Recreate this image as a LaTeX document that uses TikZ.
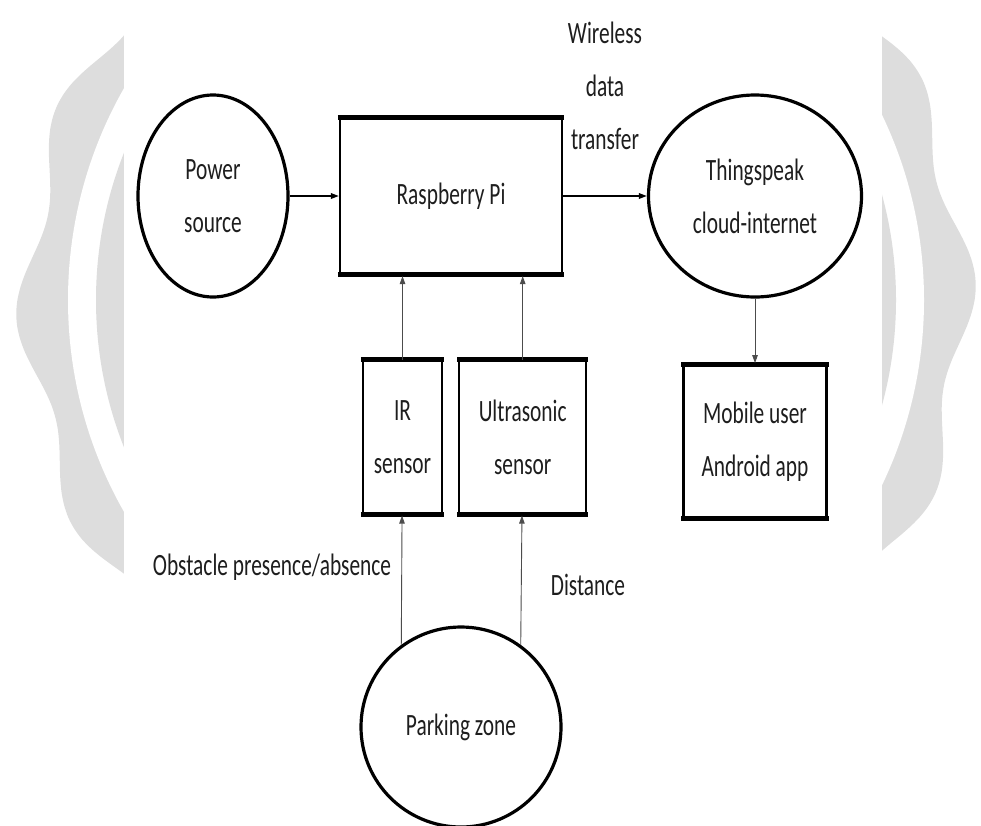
\documentclass[tikz,border=0pt]{standalone}
\usepackage{fontspec}
\setmainfont{Carlito}[FakeStretch=0.69]
\usepackage{tikz}
\usetikzlibrary{arrows.meta,positioning,shapes.geometric}
\definecolor{wmark}{RGB}{221,221,221}
\definecolor{ink}{RGB}{30,30,30}

\begin{document}
\begin{tikzpicture}[
    x=1pt, y=-1pt,
    node distance=15pt,
    txt/.style={font=\fontsize{31}{53}\selectfont, text=ink, align=center},
    block/.style={txt, draw, line width=2.2pt, inner sep=0pt, minimum height=152pt},
    blob/.style={txt, ellipse, draw, line width=3.2pt, inner sep=0pt},
    rim/.style={line width=5pt, shorten <=-1.1pt, shorten >=-1.1pt},
    arrow/.style={-{Triangle[length=8pt, width=5.5pt]}, line width=1.6pt},
    thin arrow/.style={-{Triangle[length=8pt, width=5.5pt]}, line width=0.9pt, black!70, shorten >=1.5pt},
  ]
  \clip (0,0) rectangle (981,825);
  % faint badge behind the figure
  \fill[wmark] plot[domain=0:358.5, samples=240, smooth cycle]
    ({496+(468+12*cos(14*(\x-182)))*cos(\x)}, {300-(468+12*cos(14*(\x-182)))*sin(\x)});
  \fill[white] (496,300) circle[radius=428pt];
  \fill[wmark] (496,300) circle[radius=400pt];
  \fill[white] (124,-5) rectangle (882,830);

  \node[blob, minimum width=150pt, minimum height=202pt] (power) at (213,196) {Power\\source};
  \node[block, minimum width=222pt, minimum height=155pt] (pi) at (451,196) {Raspberry Pi};
  \node[blob, minimum width=213pt, minimum height=202pt] (cloud) at (755,196) {Thingspeak\\cloud-internet};
  \node[txt] (wireless) at (605,86) {Wireless\\data\\transfer};
  \node[block, minimum width=79pt] (ir) at (402.5,437) {IR\\sensor};
  \node[block, minimum width=127pt, right=15pt of ir] (ultra) {Ultrasonic\\sensor};
  \node[block, minimum width=143pt, below=66pt of cloud] (mobile) {Mobile user\\Android app};
  \node[blob, circle, minimum size=200pt] (park) at (461,727) {Parking zone};
  \node[txt, anchor=base] (obstacle) at (272,575) {Obstacle presence/absence};
  \node[txt, anchor=base] (distance) at (588,595) {Distance};

  % heavier top and bottom edges
  \foreach \b in {pi, ir, ultra, mobile} {
    \draw[rim] (\b.north west) -- (\b.north east);
    \draw[rim] (\b.south west) -- (\b.south east);
  }

  \draw[arrow] (power) -- (pi);
  \draw[arrow] (pi) -- (cloud);
  \draw[thin arrow] (cloud) -- (mobile);
  \draw[thin arrow] (ir) -- (ir |- pi.south);
  \draw[thin arrow] (ultra) -- (ultra |- pi.south);
  \draw[thin arrow] (park.126) -- (ir);
  \draw[thin arrow] (park.54) -- (ultra);
\end{tikzpicture}
\end{document}
